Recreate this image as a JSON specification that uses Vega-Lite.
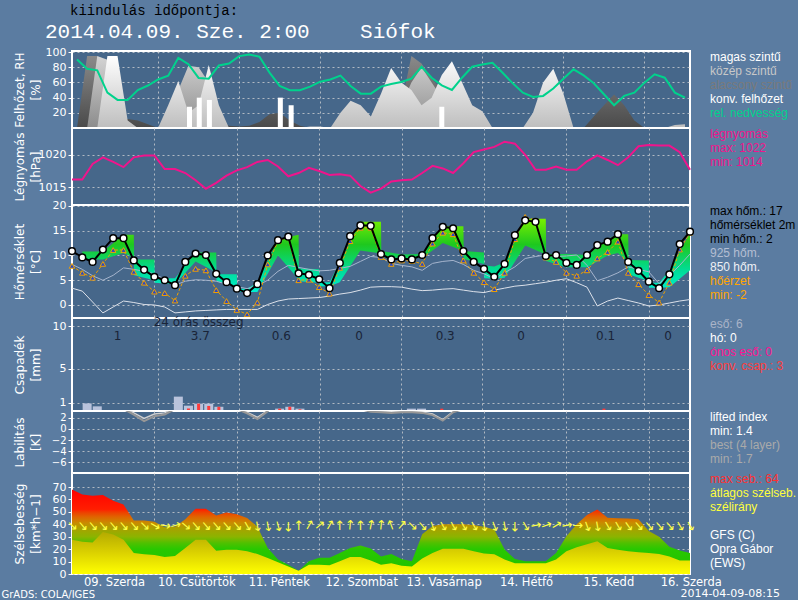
{
"$schema": "https://vega.github.io/schema/vega-lite/v6.json",
"padding": {"left": 0, "top": 4, "right": 0, "bottom": 0},
"title": {"text": "kiindulás időpontja:", "anchor": "start", "frame": "bounds", "font": "Liberation Mono", "fontSize": 14, "fontWeight": "normal", "color": "black", "dx": 70, "offset": 2},
"datasets": {
"m": [
{"h":0,"rh":90.3,"p":1016.2,"t":10.9,"f":7.9,"t9":8.2,"t8":3.4,"li":6,"lb":6,"g":68,"a":27.6,"d":135},
{"h":3,"rh":78,"p":1016.2,"t":9.6,"f":6.5,"t9":7.2,"t8":2.8,"li":6,"lb":6,"g":64,"a":26,"d":140},
{"h":6,"rh":76,"p":1018.6,"t":8.7,"f":5.5,"t9":5.9,"t8":0.6,"li":6,"lb":6,"g":63,"a":25.4,"d":140},
{"h":9,"rh":46.6,"p":1019.6,"t":11.2,"f":8.3,"t9":5.0,"t8":-1.6,"li":6,"lb":6,"g":63.5,"a":33.9,"d":140},
{"h":12,"rh":37,"p":1018.9,"t":13.5,"f":11.1,"t9":6.0,"t8":-0.4,"li":6,"lb":6,"g":59,"a":31.8,"d":140},
{"h":15,"rh":37,"p":1018.1,"t":13.5,"f":11.1,"t9":7.5,"t8":0.8,"li":3.6,"lb":3.8,"g":56,"a":27.6,"d":140},
{"h":18,"rh":50,"p":1019.6,"t":9.0,"f":6.7,"t9":7.2,"t8":0.5,"li":2.6,"lb":2.9,"g":43,"a":17,"d":140},
{"h":21,"rh":56,"p":1019.9,"t":7.1,"f":4.5,"t9":6.8,"t8":0.1,"li":1.4,"lb":1.9,"g":43,"a":15.8,"d":135},
{"h":24,"rh":64,"p":1019.9,"t":5.7,"f":2.7,"t9":6.3,"t8":0.0,"li":2.3,"lb":2.7,"g":42,"a":15.2,"d":120},
{"h":27,"rh":69,"p":1017.8,"t":5.0,"f":2.4,"t9":5.2,"t8":-0.4,"li":2.6,"lb":2.9,"g":37.6,"a":13.6,"d":100},
{"h":30,"rh":92.5,"p":1017.8,"t":4.0,"f":0.9,"t9":4.0,"t8":-1.6,"li":3.6,"lb":3.8,"g":38,"a":14.4,"d":75},
{"h":33,"rh":84,"p":1017.2,"t":8.7,"f":5.9,"t9":4.8,"t8":-1.4,"li":6,"lb":6,"g":44,"a":21,"d":130},
{"h":36,"rh":66,"p":1016.1,"t":10.4,"f":7.3,"t9":5.1,"t8":-1.2,"li":6,"lb":6,"g":52.5,"a":27.6,"d":140},
{"h":39,"rh":65,"p":1014.8,"t":10.1,"f":7.0,"t9":5.0,"t8":-1.1,"li":6,"lb":6,"g":52.5,"a":27.6,"d":140},
{"h":42,"rh":82.5,"p":1015.7,"t":6.3,"f":3.0,"t9":4.8,"t8":-1.0,"li":6,"lb":6,"g":47,"a":18.8,"d":140},
{"h":45,"rh":85,"p":1016.8,"t":4.6,"f":0.8,"t9":4.2,"t8":-0.9,"li":6,"lb":6,"g":49.5,"a":19.6,"d":140},
{"h":48,"rh":94.8,"p":1017.6,"t":3.3,"f":-1.0,"t9":3.7,"t8":-0.9,"li":3.6,"lb":3.8,"g":48,"a":19.6,"d":140},
{"h":51,"rh":97,"p":1018.1,"t":2.4,"f":-1.9,"t9":3.3,"t8":-0.9,"li":2.8,"lb":3.0,"g":45,"a":18.3,"d":150},
{"h":54,"rh":94,"p":1018.9,"t":4.2,"f":0.5,"t9":3.9,"t8":-0.9,"li":1.8,"lb":2.1,"g":38,"a":16.1,"d":170},
{"h":57,"rh":73,"p":1019.2,"t":10.0,"f":8.2,"t9":5.0,"t8":0.1,"li":3.2,"lb":3.3,"g":21,"a":12.9,"d":170},
{"h":60,"rh":55.4,"p":1018.2,"t":13.1,"f":12.9,"t9":6.8,"t8":0.8,"li":6,"lb":6,"g":11.6,"a":9.5,"d":165},
{"h":63,"rh":49.8,"p":1016.7,"t":13.8,"f":13.7,"t9":8.0,"t8":1.2,"li":6,"lb":6,"g":7.5,"a":6,"d":180},
{"h":66,"rh":49.8,"p":1017.2,"t":6.4,"f":5.0,"t9":7.6,"t8":1.3,"li":6,"lb":6,"g":2.7,"a":2.7,"d":0},
{"h":69,"rh":54.5,"p":1018.0,"t":6.1,"f":5.1,"t9":7.2,"t8":1.4,"li":6,"lb":6,"g":10.3,"a":7.5,"d":30},
{"h":72,"rh":61,"p":1017.5,"t":5.2,"f":3.6,"t9":6.9,"t8":1.5,"li":6,"lb":6,"g":13,"a":7.5,"d":50},
{"h":75,"rh":64,"p":1016.9,"t":3.4,"f":2.3,"t9":7.0,"t8":1.8,"li":6,"lb":6,"g":13,"a":7,"d":30},
{"h":78,"rh":69,"p":1017.0,"t":8.5,"f":7.5,"t9":7.4,"t8":2.2,"li":6,"lb":6,"g":17,"a":10.3,"d":0},
{"h":81,"rh":55.4,"p":1016.8,"t":13.9,"f":12.9,"t9":7.8,"t8":2.5,"li":6,"lb":6,"g":21,"a":13.6,"d":5},
{"h":84,"rh":45.3,"p":1015.2,"t":16.1,"f":15.6,"t9":8.8,"t8":3.0,"li":3.6,"lb":3.8,"g":23,"a":13.6,"d":0},
{"h":87,"rh":45.3,"p":1014.2,"t":16.0,"f":15.6,"t9":9.8,"t8":3.6,"li":3.1,"lb":3.2,"g":20.5,"a":10.9,"d":10},
{"h":90,"rh":54.5,"p":1014.8,"t":10.3,"f":9.7,"t9":9.6,"t8":3.7,"li":3.0,"lb":3.1,"g":14,"a":7.5,"d":5},
{"h":93,"rh":58,"p":1015.9,"t":9.2,"f":8.3,"t9":8.4,"t8":3.7,"li":2.9,"lb":3.0,"g":16,"a":8.6,"d":-20},
{"h":96,"rh":60.6,"p":1016.1,"t":9.4,"f":9.0,"t9":8.0,"t8":3.6,"li":3.0,"lb":3.1,"g":12,"a":6.6,"d":40},
{"h":99,"rh":65,"p":1016.2,"t":9.2,"f":8.9,"t9":7.7,"t8":3.2,"li":3.0,"lb":3.1,"g":10.3,"a":6.1,"d":135},
{"h":102,"rh":80.7,"p":1017.2,"t":10.1,"f":8.3,"t9":7.0,"t8":2.9,"li":2.9,"lb":3.0,"g":31.9,"a":12.4,"d":140},
{"h":105,"rh":66.3,"p":1018.3,"t":13.5,"f":12.4,"t9":8.4,"t8":3.0,"li":2.5,"lb":2.7,"g":38.6,"a":17,"d":160},
{"h":108,"rh":56.3,"p":1017.9,"t":15.8,"f":14.6,"t9":8.8,"t8":3.2,"li":1.5,"lb":1.7,"g":40,"a":20.4,"d":150},
{"h":111,"rh":50.2,"p":1017.2,"t":15.5,"f":14.3,"t9":9.0,"t8":3.3,"li":3.0,"lb":3.1,"g":40,"a":20.4,"d":150},
{"h":114,"rh":66.3,"p":1018.7,"t":10.9,"f":9.0,"t9":8.2,"t8":3.0,"li":3.6,"lb":3.8,"g":40,"a":20.4,"d":150},
{"h":117,"rh":80.7,"p":1020.4,"t":8.7,"f":6.5,"t9":7.0,"t8":2.7,"li":6,"lb":6,"g":39.5,"a":18.3,"d":150},
{"h":120,"rh":83.8,"p":1020.8,"t":7.3,"f":4.6,"t9":6.3,"t8":2.5,"li":6,"lb":6,"g":38,"a":16.5,"d":170},
{"h":123,"rh":86,"p":1021.2,"t":5.7,"f":3.2,"t9":5.3,"t8":3.0,"li":6,"lb":6,"g":35.8,"a":15.8,"d":160},
{"h":126,"rh":72.9,"p":1022.0,"t":8.3,"f":6.5,"t9":6.5,"t8":3.4,"li":6,"lb":6,"g":19.7,"a":11.7,"d":170},
{"h":129,"rh":58.9,"p":1021.7,"t":14.1,"f":13.3,"t9":7.7,"t8":3.8,"li":6,"lb":6,"g":12,"a":8.6,"d":180},
{"h":132,"rh":46.6,"p":1020.0,"t":17.1,"f":17.8,"t9":9.4,"t8":4.0,"li":6,"lb":6,"g":10.3,"a":8.6,"d":150},
{"h":135,"rh":41,"p":1017.7,"t":16.8,"f":17.1,"t9":9.8,"t8":4.3,"li":6,"lb":6,"g":10.3,"a":8.6,"d":80},
{"h":138,"rh":42.3,"p":1017.7,"t":9.9,"f":9.6,"t9":10.1,"t8":4.6,"li":6,"lb":6,"g":10.3,"a":8.6,"d":70},
{"h":141,"rh":52,"p":1018.2,"t":10.1,"f":8.7,"t9":9.8,"t8":5.0,"li":6,"lb":6,"g":17,"a":11.7,"d":60},
{"h":144,"rh":65,"p":1017.7,"t":8.5,"f":6.5,"t9":9.9,"t8":5.3,"li":6,"lb":6,"g":30.4,"a":18.3,"d":80},
{"h":147,"rh":77.3,"p":1017.7,"t":8.1,"f":5.9,"t9":10.1,"t8":4.5,"li":6,"lb":6,"g":40,"a":21.6,"d":90},
{"h":150,"rh":69.4,"p":1019.0,"t":10.1,"f":7.0,"t9":8.0,"t8":3.6,"li":6,"lb":6,"g":47.5,"a":24,"d":160},
{"h":153,"rh":58.9,"p":1019.9,"t":12.1,"f":9.4,"t9":4.9,"t8":-0.2,"li":6,"lb":6,"g":51.9,"a":26.4,"d":170},
{"h":156,"rh":44.5,"p":1019.2,"t":12.8,"f":10.7,"t9":5.6,"t8":0.8,"li":6,"lb":6,"g":45.2,"a":21,"d":150},
{"h":159,"rh":30,"p":1018.4,"t":14.3,"f":12.8,"t9":6.5,"t8":1.4,"li":6,"lb":6,"g":44.8,"a":19.5,"d":150},
{"h":162,"rh":42.3,"p":1019.6,"t":8.7,"f":6.5,"t9":7.7,"t8":0.9,"li":6,"lb":6,"g":44.7,"a":18.3,"d":145},
{"h":165,"rh":46.6,"p":1021.3,"t":6.9,"f":4.2,"t9":7.2,"t8":0.4,"li":6,"lb":6,"g":44,"a":17.5,"d":140},
{"h":168,"rh":59.8,"p":1021.5,"t":4.7,"f":2.0,"t9":6.7,"t8":-0.2,"li":6,"lb":6,"g":34.6,"a":17,"d":140},
{"h":171,"rh":70.8,"p":1021.4,"t":3.4,"f":0.5,"t9":4.3,"t8":0.0,"li":6,"lb":6,"g":30,"a":16,"d":140},
{"h":174,"rh":66.3,"p":1021.4,"t":6.2,"f":4.5,"t9":6.0,"t8":0.4,"li":6,"lb":6,"g":22,"a":14,"d":140},
{"h":177,"rh":46.6,"p":1020.4,"t":12.3,"f":11.2,"t9":8.0,"t8":0.8,"li":6,"lb":6,"g":19,"a":10.9,"d":150},
{"h":180,"rh":40,"p":1017.7,"t":14.8,"f":14.6,"t9":10.3,"t8":1.1,"li":6,"lb":6,"g":17,"a":10.9,"d":150}
],
"c": [
{"h":0,"hi":0,"mi":0,"lo":0},{"h":3,"hi":0,"mi":0,"lo":95},{"h":6,"hi":0,"mi":95,"lo":95},{"h":9,"hi":95,"mi":90,"lo":60},
{"h":12,"hi":95,"mi":40,"lo":12},{"h":15,"hi":10,"mi":0,"lo":12},{"h":18,"hi":0,"mi":0,"lo":10},{"h":21,"hi":0,"mi":0,"lo":5},
{"h":24,"hi":0,"mi":0,"lo":0},{"h":27,"hi":30,"mi":10,"lo":0},{"h":30,"hi":62,"mi":50,"lo":20},{"h":33,"hi":20,"mi":82,"lo":45},
{"h":36,"hi":30,"mi":80,"lo":60},{"h":39,"hi":83,"mi":60,"lo":30},{"h":42,"hi":30,"mi":20,"lo":10},{"h":45,"hi":0,"mi":0,"lo":3},
{"h":48,"hi":0,"mi":0,"lo":2},{"h":51,"hi":0,"mi":0,"lo":3},{"h":54,"hi":0,"mi":0,"lo":8},{"h":57,"hi":0,"mi":0,"lo":18},
{"h":60,"hi":0,"mi":0,"lo":20},{"h":63,"hi":0,"mi":0,"lo":10},{"h":66,"hi":0,"mi":0,"lo":3},{"h":69,"hi":2,"mi":0,"lo":0},
{"h":72,"hi":2,"mi":0,"lo":0},{"h":75,"hi":0,"mi":0,"lo":0},{"h":78,"hi":20,"mi":0,"lo":0},{"h":81,"hi":36,"mi":10,"lo":0},
{"h":84,"hi":30,"mi":10,"lo":0},{"h":87,"hi":15,"mi":5,"lo":0},{"h":90,"hi":45,"mi":10,"lo":0},{"h":93,"hi":79,"mi":20,"lo":0},
{"h":96,"hi":60,"mi":30,"lo":30},{"h":99,"hi":50,"mi":60,"lo":95},{"h":102,"hi":30,"mi":80,"lo":85},{"h":105,"hi":40,"mi":60,"lo":65},
{"h":108,"hi":70,"mi":40,"lo":50},{"h":111,"hi":88,"mi":30,"lo":35},{"h":114,"hi":60,"mi":10,"lo":15},{"h":117,"hi":30,"mi":0,"lo":0},
{"h":120,"hi":22,"mi":0,"lo":0},{"h":123,"hi":0,"mi":0,"lo":0},{"h":126,"hi":0,"mi":0,"lo":0},{"h":129,"hi":0,"mi":0,"lo":0},
{"h":132,"hi":0,"mi":0,"lo":0},{"h":135,"hi":20,"mi":0,"lo":0},{"h":138,"hi":60,"mi":10,"lo":0},{"h":141,"hi":78,"mi":10,"lo":0},
{"h":144,"hi":45,"mi":5,"lo":0},{"h":147,"hi":0,"mi":0,"lo":0},{"h":150,"hi":0,"mi":0,"lo":0},{"h":153,"hi":0,"mi":0,"lo":15},
{"h":156,"hi":0,"mi":0,"lo":30},{"h":159,"hi":0,"mi":0,"lo":44},{"h":162,"hi":0,"mi":0,"lo":30},{"h":165,"hi":0,"mi":0,"lo":10},
{"h":168,"hi":0,"mi":0,"lo":0},{"h":171,"hi":0,"mi":0,"lo":0},{"h":174,"hi":0,"mi":0,"lo":0},{"h":177,"hi":4,"mi":0,"lo":0},
{"h":180,"hi":5,"mi":0,"lo":0}
],
"cv": [{"h":33.3,"v":28},{"h":36.2,"v":40},{"h":39.2,"v":37},{"h":60.2,"v":40},{"h":63.4,"v":30},{"h":108,"v":28}],
"b": [
{"h":3,"u":10.8,"l":9.2},{"h":9,"u":10.8,"l":9.2},{"h":15,"u":14.2,"l":10.5},{"h":18,"u":14.2,"l":9.5},{"h":18.1,"u":9.2,"l":6.0},
{"h":24,"u":9.2,"l":5.0},{"h":24.1,"u":5.4,"l":4.5},{"h":30,"u":5.4,"l":4.2},{"h":36,"u":10.6,"l":8.8},{"h":42,"u":10.6,"l":6.6},
{"h":42.1,"u":6.2,"l":4.8},{"h":48,"u":6.2,"l":3.6},{"h":48.1,"u":3.3,"l":2.6},{"h":51,"u":3.3,"l":2.6},{"h":54,"u":4.5,"l":2.6},
{"h":60,"u":13.3,"l":10.0},{"h":66,"u":14.2,"l":5.2},{"h":66.1,"u":7.4,"l":4.8},{"h":72,"u":7.2,"l":4.5},{"h":72.1,"u":4.6,"l":3.8},
{"h":75,"u":4.6,"l":3.8},{"h":78,"u":8.6,"l":4.6},{"h":84,"u":16.8,"l":11},{"h":90,"u":16.8,"l":10.4},{"h":90.1,"u":10.9,"l":9.7},
{"h":96,"u":10.2,"l":9.5},{"h":102,"u":10.3,"l":9.5},{"h":108,"u":15.9,"l":12.5},{"h":114,"u":15.9,"l":10.9},{"h":114.1,"u":10.9,"l":9.3},
{"h":120,"u":10.6,"l":8.3},{"h":120.1,"u":8.0,"l":5.4},{"h":123,"u":7.8,"l":5.3},{"h":126,"u":8.6,"l":5.5},{"h":132,"u":17.4,"l":12},
{"h":138,"u":17.4,"l":10.2},{"h":138.1,"u":10.3,"l":8.9},{"h":144,"u":10.3,"l":7.6},{"h":150,"u":10.1,"l":7.6},{"h":156,"u":13.3,"l":10},
{"h":159,"u":14.3,"l":10.5},{"h":162,"u":14.3,"l":8.6},{"h":162.1,"u":9.1,"l":6.2},{"h":168,"u":9.0,"l":4.8},{"h":168.1,"u":4.5,"l":3.5},
{"h":171,"u":4.5,"l":3.5},{"h":174,"u":7.0,"l":3.6},{"h":180,"u":14.5,"l":7.0}
],
"pr": [
{"h":3,"r":0.9,"k":0},{"h":6,"r":0.55,"k":0},{"h":30,"r":1.7,"k":0},{"h":33,"r":0.63,"k":0.3},{"h":36,"r":0.87,"k":0.87},
{"h":39,"r":0.87,"k":0.6},{"h":42,"r":0.5,"k":0.5},{"h":60,"r":0.28,"k":0.28},{"h":63,"r":0.5,"k":0.5},{"h":66,"r":0.28,"k":0.2},
{"h":99,"r":0.28,"k":0},{"h":102,"r":0.28,"k":0},{"h":108,"r":0,"k":0.28},{"h":156,"r":0,"k":0.28}
],
"sums": [{"h":12,"s":"1"},{"h":36.5,"s":"3.7"},{"h":60.5,"s":"0.6"},{"h":83.5,"s":"0"},{"h":109,"s":"0.3"},{"h":131.5,"s":"0"},{"h":156.5,"s":"0.1"},{"h":175,"s":"0"}]
},
"vconcat": [
{
"width": 618, "height": 77,
"title": {"text": "2014.04.09. Sze. 2:00\u00a0\u00a0\u00a0\u00a0Siófok", "anchor": "start", "frame": "group", "dx": -27, "font": "Liberation Mono", "fontSize": 21, "fontWeight": "normal", "color": "white", "offset": 4},
"encoding": {"x": {"field": "h", "type": "quantitative", "scale": {"domain": [0, 180], "nice": false, "zero": false}, "axis": {"values": [24,48,72,96,120,144,168], "labels": false, "ticks": false, "domain": false, "title": null, "grid": true}}},
"layer": [
{"data": {"name": "c"}, "mark": {"type": "area", "fill": {"gradient": "linear", "x1": 0, "y1": 0, "x2": 0, "y2": 1, "stops": [{"offset": 0, "color": "#8a8a8a"}, {"offset": 1, "color": "#4a4a4a"}]}},
 "encoding": {"y": {"field": "lo", "type": "quantitative", "scale": {"domain": [0, 101.5], "nice": false, "zero": false}, "axis": {"values": [20,40,60,80,100], "grid": true, "title": ["Felhőzet, RH", "[%]"]}}}},
{"data": {"name": "c"}, "mark": {"type": "area", "fill": {"gradient": "linear", "x1": 0, "y1": 0, "x2": 0, "y2": 1, "stops": [{"offset": 0, "color": "#d4d4d4"}, {"offset": 1, "color": "#8c8c8c"}]}},
 "encoding": {"y": {"field": "mi", "type": "quantitative", "scale": {"domain": [0, 101.5], "nice": false, "zero": false}, "axis": {"values": [20,40,60,80,100], "grid": true, "title": ["Felhőzet, RH", "[%]"]}}}},
{"data": {"name": "c"}, "mark": {"type": "area", "fill": {"gradient": "linear", "x1": 0, "y1": 0, "x2": 0, "y2": 1, "stops": [{"offset": 0, "color": "#ffffff"}, {"offset": 1, "color": "#bebebe"}]}},
 "encoding": {"y": {"field": "hi", "type": "quantitative", "scale": {"domain": [0, 101.5], "nice": false, "zero": false}, "axis": {"values": [20,40,60,80,100], "grid": true, "title": ["Felhőzet, RH", "[%]"]}}}},
{"data": {"name": "cv"}, "mark": {"type": "bar", "color": "#ffffff", "size": 5},
 "encoding": {"y": {"field": "v", "type": "quantitative", "scale": {"domain": [0, 101.5], "nice": false, "zero": false}, "axis": {"values": [20,40,60,80,100], "grid": true, "title": ["Felhőzet, RH", "[%]"]}}}},
{"data": {"name": "m"}, "mark": {"type": "line", "color": "#00d28c", "strokeWidth": 2},
 "encoding": {"y": {"field": "rh", "type": "quantitative", "scale": {"domain": [0, 101.5], "nice": false, "zero": false}, "axis": {"values": [20,40,60,80,100], "grid": true, "title": ["Felhőzet, RH", "[%]"]}}}},
{"data": {"values": [{"k": "magas szintű"}, {"k": "közép szintű"}, {"k": "alacsony szintű"}, {"k": "konv. felhőzet"}, {"k": "rel. nedvesség"}]}, "mark": {"type": "point", "opacity": 0},
 "encoding": {"color": {"field": "k", "type": "nominal", "sort": null, "scale": {"domain": ["magas szintű", "közép szintű", "alacsony szintű", "konv. felhőzet", "rel. nedvesség"], "range": ["#ffffff", "#c8c8c8", "#828282", "#ffffff", "#00d28c"]},
  "legend": {"labelColor": {"expr": "datum.label == 'közép szintű' ? '#c8c8c8' : datum.label == 'alacsony szintű' ? '#7a7a7a' : datum.label == 'rel. nedvesség' ? '#00d28c' : '#ffffff'"}}}}}
]
},
{
"width": 618, "height": 77,
"encoding": {"x": {"field": "h", "type": "quantitative", "scale": {"domain": [0, 180], "nice": false, "zero": false}, "axis": {"values": [24,48,72,96,120,144,168], "labels": false, "ticks": false, "domain": false, "title": null, "grid": true}}},
"layer": [
{"data": {"name": "m"}, "mark": {"type": "line", "color": "#f0148c", "strokeWidth": 2},
 "encoding": {"y": {"field": "p", "type": "quantitative", "scale": {"domain": [1012.3, 1024.1], "nice": false, "zero": false}, "axis": {"values": [1015, 1020], "format": "d", "grid": true, "title": ["Légnyomás", "[hPa]"]}}}},
{"data": {"values": [{"k": "légnyomás"}, {"k": "max: 1022"}, {"k": "min: 1014"}]}, "mark": {"type": "point", "opacity": 0},
 "encoding": {"color": {"field": "k", "type": "nominal", "sort": null, "scale": {"domain": ["légnyomás", "max: 1022", "min: 1014"], "range": ["#f0148c", "#f0148c", "#f0148c"]},
  "legend": {"labelColor": "#f0148c"}}}}
]
},
{
"width": 618, "height": 113,
"encoding": {"x": {"field": "h", "type": "quantitative", "scale": {"domain": [0, 180], "nice": false, "zero": false}, "axis": {"values": [24,48,72,96,120,144,168], "labels": false, "ticks": false, "domain": false, "title": null, "grid": true}}},
"layer": [
{"data": {"name": "b"}, "mark": {"type": "area", "fill": {"gradient": "linear", "x1": 0, "y1": 0, "x2": 0, "y2": 1, "stops": [{"offset": 0, "color": "#78f000"}, {"offset": 0.35, "color": "#1ec81e"}, {"offset": 0.7, "color": "#00dc96"}, {"offset": 1, "color": "#00f0d2"}]}},
 "encoding": {"y": {"field": "u", "type": "quantitative", "scale": {"domain": [-2.63, 20.2], "nice": false, "zero": false}, "axis": {"values": [0,5,10,15,20], "grid": true, "title": ["Hőmérséklet", "[°C]"]}}, "y2": {"field": "l"}}},
{"data": {"name": "m"}, "mark": {"type": "line", "color": "#a5b4cd", "strokeWidth": 1},
 "encoding": {"y": {"field": "t9", "type": "quantitative", "scale": {"domain": [-2.63, 20.2], "nice": false, "zero": false}, "axis": {"values": [0,5,10,15,20], "grid": true, "title": ["Hőmérséklet", "[°C]"]}}}},
{"data": {"name": "m"}, "mark": {"type": "line", "color": "#dce1ea", "strokeWidth": 1},
 "encoding": {"y": {"field": "t8", "type": "quantitative", "scale": {"domain": [-2.63, 20.2], "nice": false, "zero": false}, "axis": {"values": [0,5,10,15,20], "grid": true, "title": ["Hőmérséklet", "[°C]"]}}}},
{"data": {"name": "m"}, "mark": {"type": "line", "color": "#f0a000", "strokeWidth": 1, "strokeDash": [3, 2]},
 "encoding": {"y": {"field": "f", "type": "quantitative", "scale": {"domain": [-2.63, 20.2], "nice": false, "zero": false}, "axis": {"values": [0,5,10,15,20], "grid": true, "title": ["Hőmérséklet", "[°C]"]}}}},
{"data": {"name": "m"}, "mark": {"type": "point", "shape": "triangle-up", "filled": true, "fill": "#2846c8", "stroke": "#f0a000", "strokeWidth": 1, "size": 30, "opacity": 1},
 "encoding": {"y": {"field": "f", "type": "quantitative", "scale": {"domain": [-2.63, 20.2], "nice": false, "zero": false}, "axis": {"values": [0,5,10,15,20], "grid": true, "title": ["Hőmérséklet", "[°C]"]}}}},
{"data": {"name": "m"}, "mark": {"type": "line", "color": "#000000", "strokeWidth": 2},
 "encoding": {"y": {"field": "t", "type": "quantitative", "scale": {"domain": [-2.63, 20.2], "nice": false, "zero": false}, "axis": {"values": [0,5,10,15,20], "grid": true, "title": ["Hőmérséklet", "[°C]"]}}}},
{"data": {"name": "m"}, "mark": {"type": "point", "shape": "circle", "filled": true, "fill": "#ffffff", "stroke": "#000000", "strokeWidth": 1.5, "size": 45, "opacity": 1},
 "encoding": {"y": {"field": "t", "type": "quantitative", "scale": {"domain": [-2.63, 20.2], "nice": false, "zero": false}, "axis": {"values": [0,5,10,15,20], "grid": true, "title": ["Hőmérséklet", "[°C]"]}}}},
{"data": {"values": [{"k": "max hőm.: 17"}, {"k": "hőmérséklet 2m"}, {"k": "min hőm.: 2"}, {"k": "925 hőm."}, {"k": "850 hőm."}, {"k": "hőérzet"}, {"k": "min: -2"}]}, "mark": {"type": "point", "opacity": 0},
 "encoding": {"color": {"field": "k", "type": "nominal", "sort": null, "scale": {"domain": ["max hőm.: 17", "hőmérséklet 2m", "min hőm.: 2", "925 hőm.", "850 hőm.", "hőérzet", "min: -2"], "range": ["#000000", "#000000", "#000000", "#b4bed2", "#eef0f5", "#ffa500", "#ffa500"]},
  "legend": {"labelColor": {"expr": "indexof(['max hőm.: 17', 'hőmérséklet 2m', 'min hőm.: 2'], datum.label) >= 0 ? '#000000' : datum.label == '925 hőm.' ? '#b4bed2' : datum.label == '850 hőm.' ? '#eef0f5' : '#ffa500'"}}}}}
]
},
{
"width": 618, "height": 93,
"encoding": {"x": {"field": "h", "type": "quantitative", "scale": {"domain": [0, 180], "nice": false, "zero": false}, "axis": {"values": [24,48,72,96,120,144,168], "labels": false, "ticks": false, "domain": false, "title": null, "grid": true}}},
"layer": [
{"data": {"name": "pr"}, "mark": {"type": "bar", "color": "#b9c3dc", "size": 9},
 "encoding": {"y": {"field": "r", "type": "quantitative", "scale": {"domain": [0, 11], "nice": false, "zero": false}, "axis": {"values": [1,5,10], "grid": true, "title": ["Csapadék", "[mm]"]}}}},
{"data": {"name": "pr"}, "mark": {"type": "bar", "color": "#ff3c3c", "size": 3},
 "encoding": {"y": {"field": "k", "type": "quantitative", "scale": {"domain": [0, 11], "nice": false, "zero": false}, "axis": {"values": [1,5,10], "grid": true, "title": ["Csapadék", "[mm]"]}}}},
{"data": {"name": "sums"}, "mark": {"type": "text", "color": "#1a2438", "fontSize": 12, "font": "DejaVu Sans", "baseline": "middle"},
 "encoding": {"y": {"datum": 8.9, "type": "quantitative", "scale": {"domain": [0, 11], "nice": false, "zero": false}, "axis": {"values": [1,5,10], "grid": true, "title": ["Csapadék", "[mm]"]}}, "text": {"field": "s"}}},
{"data": {"values": [{"h": 36, "s": "24 órás összeg"}]}, "mark": {"type": "text", "color": "#1a2438", "fontSize": 12, "font": "DejaVu Sans", "baseline": "middle"},
 "encoding": {"y": {"datum": 10.5, "type": "quantitative", "scale": {"domain": [0, 11], "nice": false, "zero": false}, "axis": {"values": [1,5,10], "grid": true, "title": ["Csapadék", "[mm]"]}}, "text": {"field": "s"}}},
{"data": {"values": [{"k": "eső: 6"}, {"k": "hó: 0"}, {"k": "ónos eső: 0"}, {"k": "konv. csap.: 3"}]}, "mark": {"type": "point", "opacity": 0},
 "encoding": {"color": {"field": "k", "type": "nominal", "sort": null, "scale": {"domain": ["eső: 6", "hó: 0", "ónos eső: 0", "konv. csap.: 3"], "range": ["#aab4c8", "#ffffff", "#ff1493", "#ff3c3c"]},
  "legend": {"labelColor": {"expr": "datum.label == 'eső: 6' ? '#aab4c8' : datum.label == 'hó: 0' ? '#ffffff' : datum.label == 'ónos eső: 0' ? '#ff1493' : '#ff3c3c'"}}}}}
]
},
{
"width": 618, "height": 62,
"encoding": {"x": {"field": "h", "type": "quantitative", "scale": {"domain": [0, 180], "nice": false, "zero": false}, "axis": {"values": [24,48,72,96,120,144,168], "labels": false, "ticks": false, "domain": false, "title": null, "grid": true}}},
"layer": [
{"data": {"name": "m"}, "mark": {"type": "line", "color": "#cfcfcf", "strokeWidth": 1.5, "clip": true},
 "encoding": {"y": {"field": "lb", "type": "quantitative", "scale": {"domain": [-7.93, 3.24], "nice": false, "zero": false}, "axis": {"values": [2,0,-2,-4,-6], "labelFontSize": 10, "grid": true, "title": ["Labilitás", "[K]"]}}}},
{"data": {"name": "m"}, "mark": {"type": "line", "color": "#969696", "strokeWidth": 2, "clip": true},
 "encoding": {"y": {"field": "li", "type": "quantitative", "scale": {"domain": [-7.93, 3.24], "nice": false, "zero": false}, "axis": {"values": [2,0,-2,-4,-6], "labelFontSize": 10, "grid": true, "title": ["Labilitás", "[K]"]}}}},
{"data": {"values": [{"k": "lifted index"}, {"k": "min: 1.4"}, {"k": "best (4 layer)"}, {"k": "min: 1.7"}]}, "mark": {"type": "point", "opacity": 0},
 "encoding": {"color": {"field": "k", "type": "nominal", "sort": null, "scale": {"domain": ["lifted index", "min: 1.4", "best (4 layer)", "min: 1.7"], "range": ["#ffffff", "#ffffff", "#aaaaaa", "#aaaaaa"]},
  "legend": {"labelColor": {"expr": "indexof(['lifted index', 'min: 1.4'], datum.label) >= 0 ? '#ffffff' : '#aaaaaa'"}}}}}
]
},
{
"width": 618, "height": 101,
"title": {"text": "2014-04-09-08:15", "orient": "bottom", "anchor": "end", "frame": "group", "dx": 90, "fontSize": 11, "font": "DejaVu Sans", "color": "white", "fontWeight": "normal", "offset": -11},
"encoding": {"x": {"field": "h", "type": "quantitative", "scale": {"domain": [0, 180], "nice": false, "zero": false}, "axis": {"values": [0,24,48,72,96,120,144,168], "labelExpr": "['09. Szerda','10. Csütörtök','11. Péntek','12. Szombat','13. Vasárnap','14. Hétfő','15. Kedd','16. Szerda'][round(datum.value/24)]", "labelOffset": 42, "labelPadding": 2, "ticks": false, "domain": false, "grid": true, "labelFontSize": 11.5, "title": "GrADS: COLA/IGES", "titleAnchor": "start", "titleAlign": "left", "titleX": -71, "titleY": 15, "titleFontSize": 10}}},
"layer": [
{"data": {"name": "m"}, "mark": {"type": "area", "fill": {"gradient": "linear", "x1": 0, "y1": 0, "x2": 0, "y2": 1, "stops": [{"offset": 0, "color": "#ff0000"}, {"offset": 0.235, "color": "#ff1e00"}, {"offset": 0.265, "color": "#f03c00"}, {"offset": 0.324, "color": "#e06400"}, {"offset": 0.397, "color": "#c88c00"}, {"offset": 0.456, "color": "#aaa000"}, {"offset": 0.559, "color": "#8cb400"}, {"offset": 0.632, "color": "#50c000"}, {"offset": 0.706, "color": "#28c800"}, {"offset": 1, "color": "#20c000"}]}},
 "encoding": {"y": {"field": "g", "type": "quantitative", "scale": {"domain": [0, 81.3], "nice": false, "zero": false}, "axis": {"values": [0,10,20,30,40,50,60,70], "grid": true, "title": ["Szélsebesség", "[km*h−1]"]}}}},
{"data": {"name": "m"}, "mark": {"type": "area", "fill": {"gradient": "linear", "x1": 0, "y1": 0, "x2": 0, "y2": 1, "stops": [{"offset": 0, "color": "#b4aa00"}, {"offset": 0.5, "color": "#dcd200"}, {"offset": 1, "color": "#ffff00"}]}},
 "encoding": {"y": {"field": "a", "type": "quantitative", "scale": {"domain": [0, 81.3], "nice": false, "zero": false}, "axis": {"values": [0,10,20,30,40,50,60,70], "grid": true, "title": ["Szélsebesség", "[km*h−1]"]}}}},
{"data": {"name": "m"}, "mark": {"type": "text", "text": "↑", "color": "#ffff46", "fontSize": 13, "font": "DejaVu Sans", "baseline": "middle", "align": "center"},
 "encoding": {"y": {"datum": 39, "type": "quantitative", "scale": {"domain": [0, 81.3], "nice": false, "zero": false}, "axis": {"values": [0,10,20,30,40,50,60,70], "grid": true, "title": ["Szélsebesség", "[km*h−1]"]}}, "angle": {"field": "d", "type": "quantitative", "scale": null}}},
{"data": {"values": [{"k": "max seb.: 64"}, {"k": "átlagos szélseb."}, {"k": "szélirány"}, {"k": "\u00a0"}, {"k": "\u00a0\u00a0\u00a0\u00a0\u00a0\u00a0GFS (C)"}, {"k": "\u00a0\u00a0\u00a0\u00a0Opra Gábor"}, {"k": "\u00a0\u00a0\u00a0\u00a0\u00a0\u00a0\u00a0\u00a0(EWS)"}]}, "mark": {"type": "point", "opacity": 0},
 "encoding": {"color": {"field": "k", "type": "nominal", "sort": null, "scale": {"domain": ["max seb.: 64", "átlagos szélseb.", "szélirány", "\u00a0", "\u00a0\u00a0\u00a0\u00a0\u00a0\u00a0GFS (C)", "\u00a0\u00a0\u00a0\u00a0Opra Gábor", "\u00a0\u00a0\u00a0\u00a0\u00a0\u00a0\u00a0\u00a0(EWS)"], "range": ["#ff3030", "#ffff3c", "#ffff3c", "#ffffff", "#ffffff", "#ffffff", "#ffffff"]},
  "legend": {"labelColor": {"expr": "datum.label == 'max seb.: 64' ? '#ff3030' : indexof(['átlagos szélseb.', 'szélirány'], datum.label) >= 0 ? '#ffff3c' : '#ffffff'"}}}}}
]
}
],
"spacing": 0,
"bounds": "flush",
"resolve": {"scale": {"color": "independent"}, "legend": {"color": "independent"}},
"config": {
"background": "#5b7ca1",
"view": {"fill": "#46678a", "stroke": "#ffffff", "strokeWidth": 2},
"font": "DejaVu Sans",
"axis": {"labelColor": "#ffffff", "labelFont": "DejaVu Sans", "labelFontSize": 11, "tickColor": "#ffffff", "tickSize": 4, "domainColor": "#ffffff", "gridColor": "#c4c8cc", "gridDash": [2, 3], "gridOpacity": 0.85, "titleColor": "#ffffff", "titleFont": "DejaVu Sans", "titleFontSize": 12, "titleFontWeight": "normal", "titleLineHeight": 16, "labelOverlap": false, "labelFlush": false},
"axisLeft": {"titleX": -46, "titleBaseline": "bottom", "titleAngle": -90},
"legend": {"title": null, "orient": "right", "offset": 8, "symbolSize": 0, "symbolOpacity": 0, "symbolStrokeWidth": 0, "labelOffset": 0, "labelFont": "Liberation Sans", "labelFontSize": 12, "rowPadding": 2, "labelLimit": 300, "padding": 0}
}
}
